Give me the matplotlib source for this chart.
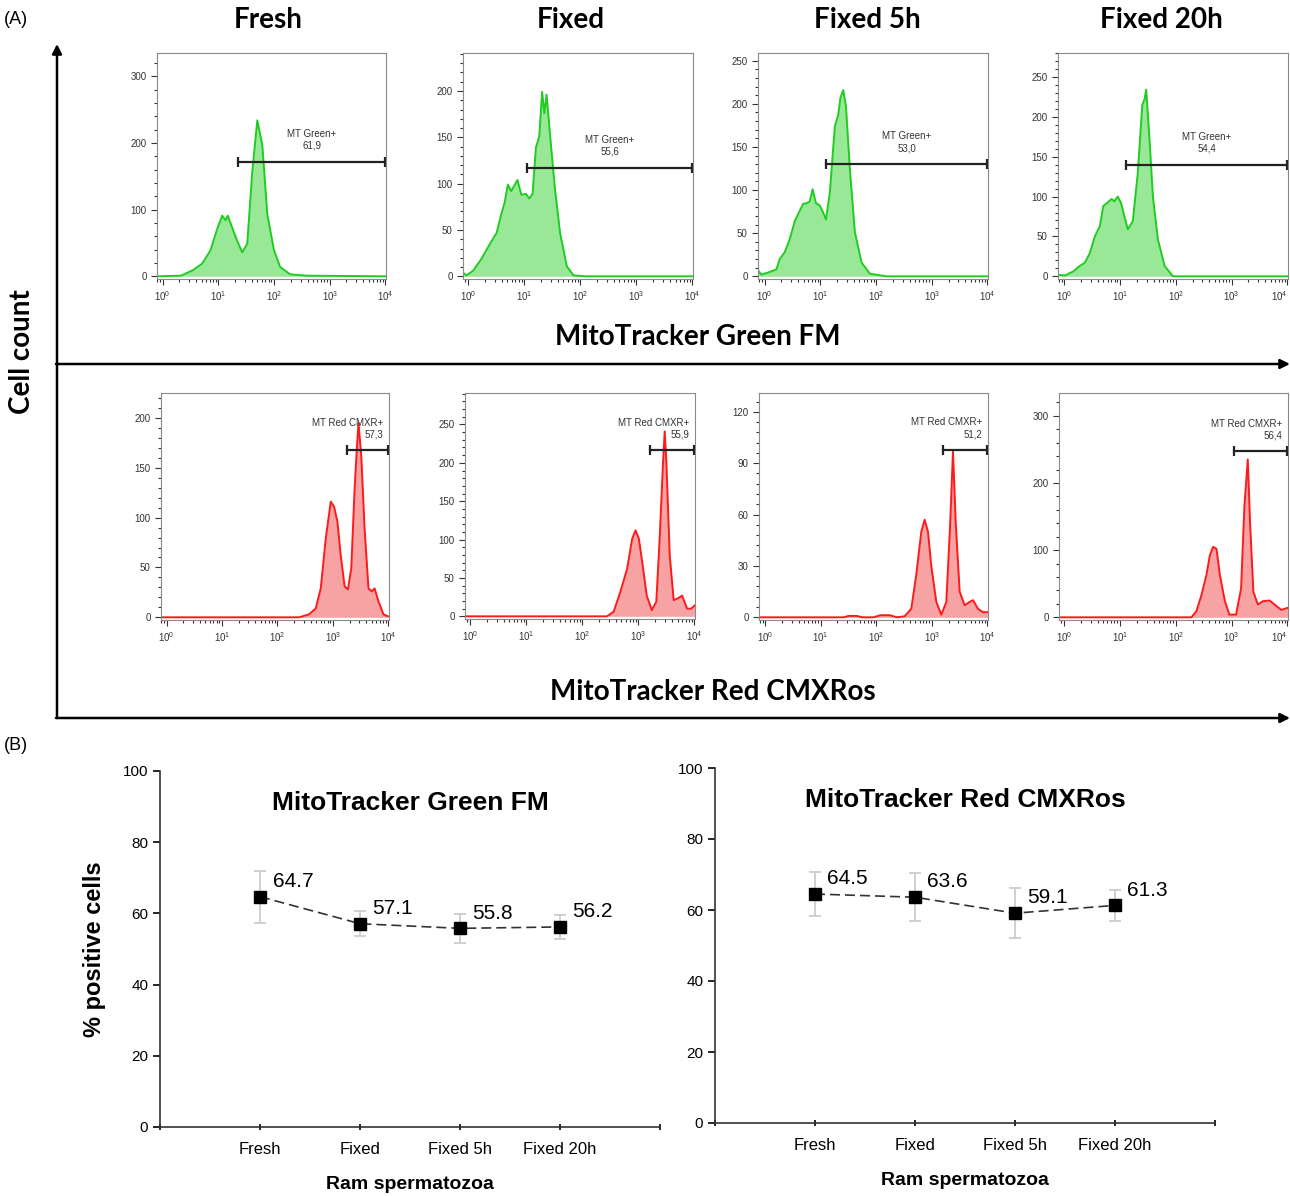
import numpy as np
import matplotlib
matplotlib.use("Agg")
import matplotlib.pyplot as plt
from matplotlib.patches import FancyArrowPatch
from matplotlib.ticker import FixedLocator, MultipleLocator, AutoMinorLocator, FuncFormatter, NullFormatter

plt.rcParams['font.family'] = ['Liberation Sans', 'DejaVu Sans']
plt.rcParams['mathtext.fontset'] = 'custom'
plt.rcParams['mathtext.rm'] = 'Liberation Sans'
plt.rcParams['mathtext.it'] = 'Liberation Sans'

W, H = 1290, 1196

# ---------------- data ----------------
conditions = ['Fresh', 'Fixed', 'Fixed 5h', 'Fixed 20h']

# MitoTracker Green FM histograms (log10 intensity, cell count)
g_fresh_x = [-0.1, 0.33, 0.54, 0.71, 0.86, 0.98, 1.07, 1.13, 1.17, 1.25, 1.34, 1.43, 1.52, 1.61, 1.70, 1.79, 1.88, 2.0, 2.11, 2.29, 2.59, 4.0]
g_fresh_y = [0, 1, 9, 19, 39, 71, 91, 84, 91, 73, 53, 36, 49, 157, 234, 197, 93, 39, 14, 3, 1, 0]
g_fixed_x = [-0.09, -0.03, 0.09, 0.24, 0.39, 0.51, 0.6, 0.65, 0.71, 0.77, 0.88, 0.95, 1.03, 1.09, 1.15, 1.21, 1.27, 1.32, 1.36, 1.4, 1.47, 1.55, 1.64, 1.76, 1.88, 2.1, 4.02]
g_fixed_y = [4, 1, 6, 19, 35, 47, 69, 79, 99, 92, 104, 88, 89, 84, 89, 139, 151, 199, 176, 196, 147, 94, 47, 11, 1, 0, 0]
g_fix5_x = [-0.12, -0.06, 0.09, 0.21, 0.27, 0.36, 0.45, 0.54, 0.63, 0.69, 0.76, 0.81, 0.86, 0.92, 0.99, 1.05, 1.10, 1.17, 1.26, 1.32, 1.36, 1.41, 1.46, 1.53, 1.62, 1.74, 1.89, 2.19, 4.0]
g_fix5_y = [7, 2, 5, 8, 20, 28, 43, 64, 76, 84, 85, 87, 101, 85, 82, 74, 66, 97, 174, 187, 207, 216, 197, 124, 51, 16, 3, 0, 0]
g_fix20_x = [-0.11, 0.01, 0.16, 0.28, 0.37, 0.46, 0.55, 0.64, 0.70, 0.77, 0.85, 0.9, 0.96, 1.02, 1.08, 1.14, 1.23, 1.32, 1.40, 1.44, 1.47, 1.53, 1.59, 1.68, 1.80, 1.95, 4.0]
g_fix20_y = [2, 1, 6, 13, 17, 29, 50, 63, 88, 92, 97, 94, 100, 92, 75, 59, 69, 130, 215, 222, 234, 171, 100, 46, 13, 0, 0]

# MitoTracker Red CMXRos histograms
r_fresh_x = [-0.1, 2.39, 2.57, 2.69, 2.78, 2.87, 2.96, 3.02, 3.08, 3.14, 3.21, 3.27, 3.33, 3.39, 3.43, 3.46, 3.51, 3.57, 3.64, 3.7, 3.75, 3.82, 3.91, 3.99]
r_fresh_y = [0, 0, 3, 9, 29, 79, 116, 111, 96, 62, 31, 28, 49, 129, 169, 195, 162, 89, 29, 26, 29, 16, 3, 1]
r_fixed_x = [-0.09, 2.44, 2.56, 2.68, 2.80, 2.89, 2.95, 3.01, 3.07, 3.15, 3.24, 3.32, 3.38, 3.44, 3.47, 3.5, 3.56, 3.63, 3.72, 3.78, 3.87, 3.94, 4.02]
r_fixed_y = [0, 0, 6, 32, 62, 101, 112, 101, 70, 27, 8, 19, 101, 200, 241, 200, 79, 21, 24, 27, 10, 10, 15]
r_fix5_x = [-0.11, 1.41, 1.5, 1.65, 1.75, 1.95, 2.07, 2.25, 2.37, 2.51, 2.63, 2.72, 2.81, 2.87, 2.93, 2.99, 3.08, 3.17, 3.26, 3.33, 3.38, 3.43, 3.5, 3.59, 3.68, 3.74, 3.83, 3.92, 4.0]
r_fix5_y = [0, 0, 0.8, 0.8, 0, 0, 1.2, 1.2, 0, 0.6, 5, 25, 50, 57, 50, 30, 9, 1.5, 9, 55, 97, 55, 15, 7, 9, 10, 5, 3, 3]
r_fix20_x = [-0.09, 2.28, 2.37, 2.46, 2.55, 2.61, 2.67, 2.73, 2.79, 2.88, 2.96, 3.08, 3.17, 3.23, 3.29, 3.33, 3.39, 3.47, 3.56, 3.68, 3.77, 3.89, 4.0]
r_fix20_y = [0, 0, 9, 33, 63, 92, 105, 102, 63, 24, 4, 4, 43, 166, 235, 142, 38, 19, 24, 25, 19, 11, 14]

green_x = [g_fresh_x, g_fixed_x, g_fix5_x, g_fix20_x]
green_y = [g_fresh_y, g_fixed_y, g_fix5_y, g_fix20_y]
red_x = [r_fresh_x, r_fixed_x, r_fix5_x, r_fix20_x]
red_y = [r_fresh_y, r_fixed_y, r_fix5_y, r_fix20_y]

# y axis top and tick step of each histogram
green_ymax = [335, 241, 259, 280]
green_ystep = [100, 50, 50, 50]
red_ymax = [225, 291, 131, 334]
red_ystep = [50, 50, 30, 100]

# gates: start (log10), height, percentage
green_gate_lo = [1.35, 1.05, 1.1, 1.1]
green_gate_y = [172, 117, 130, 140]
green_gate_pct = ['61,9', '55,6', '53,0', '54,4']
red_gate_lo = [3.25, 3.2, 3.2, 3.05]
red_gate_y = [168, 217, 98, 248]
red_gate_pct = ['57,3', '55,9', '51,2', '56,4']

# panel B: % positive cells
green_mean = [64.7, 57.1, 55.8, 56.2]
green_err = [7.3, 3.5, 4.1, 3.4]
red_mean = [64.5, 63.6, 59.1, 61.3]
red_err = [6.2, 6.8, 7.1, 4.4]


def px_box(left, top, right, bottom):
    return [left / W, 1 - bottom / H, (right - left) / W, (bottom - top) / H]


def fx(px):
    return px / W


def fy(py):
    return 1 - py / H


fig = plt.figure(figsize=(W / 100, H / 100), dpi=100)

# ---------------- panel A: histograms ----------------
green_boxes = [(157, 53, 386, 279), (463, 53, 693, 279), (758, 53, 988, 279), (1058, 53, 1288, 279)]
red_boxes = [(161, 393, 389, 620), (465, 393, 695, 619), (759, 393, 988, 620), (1059, 393, 1288, 620)]

def log_fmt(v, pos):
    return r'$10^{%d}$' % int(round(np.log10(v)))


def histo(box, xs, ys, ymax, ystep, gate_lo, gate_y, pct, line_c, fill_c, gate_name, red, last):
    ax = fig.add_axes(px_box(*box))
    xv = 10 ** np.array(xs)
    ax.fill_between(xv, ys, 0, color=fill_c, lw=0)
    ax.plot(xv, ys, color=line_c, lw=1.4)
    ax.set_xscale('log')
    ax.set_xlim(10 ** xs[0], 10 ** 4.01)
    ax.set_ylim(-ymax * 0.012, ymax)
    ax.xaxis.set_major_locator(FixedLocator([1, 10, 100, 1000, 10000]))
    ax.xaxis.set_major_formatter(FuncFormatter(log_fmt))
    ax.xaxis.set_minor_locator(FixedLocator([m * 10 ** d for d in range(-1, 4) for m in range(2, 10)]))
    ax.xaxis.set_minor_formatter(NullFormatter())
    ax.yaxis.set_major_locator(MultipleLocator(ystep))
    ax.yaxis.set_minor_locator(AutoMinorLocator(5))
    ax.tick_params(which='both', direction='out', labelsize=7, colors='#333333', width=0.8)
    ax.tick_params(which='major', length=4)
    ax.tick_params(which='minor', length=2)
    for s in ax.spines.values():
        s.set_color('#8a8a8a')
        s.set_linewidth(0.8)
    if last:
        fig.canvas.draw()
        ax.get_xticklabels()[-1].set_horizontalalignment('right')
    # gate bar
    gx = [10 ** gate_lo, 10 ** 4.0]
    ax.plot(gx, [gate_y, gate_y], color='#222222', lw=1.6, marker='|', ms=7, mew=1.6, clip_on=False)
    if red:
        ax.text(0.975, gate_y + ymax * 0.045, gate_name + '\n' + pct, transform=ax.get_yaxis_transform(),
                ha='right', va='bottom', fontsize=7, color='#333333', linespacing=1.25)
    else:
        mid = np.sqrt(gx[0] * gx[1])
        ax.annotate(gate_name + '\n' + pct, (mid, gate_y), xytext=(0, 8), textcoords='offset points',
                    ha='center', va='bottom', fontsize=7, color='#333333', linespacing=1.25)
    return ax


for i in range(4):
    histo(green_boxes[i], green_x[i], green_y[i], green_ymax[i], green_ystep[i],
          green_gate_lo[i], green_gate_y[i], green_gate_pct[i], '#1fcc1f', '#98e898', 'MT Green+', False, i == 3)
    histo(red_boxes[i], red_x[i], red_y[i], red_ymax[i], red_ystep[i],
          red_gate_lo[i], red_gate_y[i], red_gate_pct[i], '#ff1a1a', '#f7a3a3', 'MT Red CMXR+', True, i == 3)

# column titles
title_x = [268, 571, 867, 1161]
for name, x in zip(conditions, title_x):
    fig.text(fx(x), fy(20), name, ha='center', va='center', fontsize=20, fontweight='bold', family='Lato')

fig.text(fx(698), fy(337), 'MitoTracker Green FM', ha='center', va='center', fontsize=20, fontweight='bold', family='Lato')
fig.text(fx(713), fy(692), 'MitoTracker Red CMXRos', ha='center', va='center', fontsize=20, fontweight='bold', family='Lato')
fig.text(fx(22), fy(352), 'Cell count', ha='center', va='center', rotation=90, fontsize=20, fontweight='bold', family='Lato')
fig.text(fx(4), fy(20), '(A)', ha='left', va='center', fontsize=13)
fig.text(fx(4), fy(745), '(B)', ha='left', va='center', fontsize=13)

# big arrows
arrows = [((57, 718), (57, 44)), ((56, 364), (1290, 364)), ((56, 718), (1290, 718))]
for (x0, y0), (x1, y1) in arrows:
    fig.add_artist(FancyArrowPatch((fx(x0), fy(y0)), (fx(x1), fy(y1)), transform=fig.transFigure,
                                   arrowstyle='-|>', mutation_scale=14, lw=1.8, color='black',
                                   shrinkA=0, shrinkB=0))

# ---------------- panel B ----------------
def line_panel(box, means, errs, title):
    ax = fig.add_axes(px_box(*box))
    pos = np.arange(1, len(conditions) + 1)
    ax.errorbar(pos, means, yerr=errs, fmt='none', ecolor='#c8c8c8', elinewidth=1.2, capsize=4, capthick=1.2, zorder=1)
    ax.plot(pos, means, color='#333333', lw=1.2, dashes=(6, 3), zorder=2)
    ax.plot(pos, means, 's', color='black', ms=9, zorder=3)
    for p, m in zip(pos, means):
        ax.annotate('%.1f' % m, (p, m), xytext=(9, 11), textcoords='offset points',
                    ha='left', va='center', fontsize=15)
    ax.set_xlim(0, 5)
    ax.set_ylim(0, 100)
    ax.set_xticks(range(0, 6))
    ax.set_xticklabels([''] + conditions + [''], fontsize=12)
    ax.set_yticks(range(0, 101, 20))
    ax.tick_params(axis='y', labelsize=11, length=5, width=1.2, direction='out')
    ax.tick_params(axis='x', length=5, width=1.2, direction='inout', pad=8)
    for s in ['top', 'right']:
        ax.spines[s].set_visible(False)
    for s in ['left', 'bottom']:
        ax.spines[s].set_linewidth(1.2)
        ax.spines[s].set_color('#333333')
    ax.text(2.5, 91, title, ha='center', va='center', fontsize=19, fontweight='bold')
    ax.set_xlabel('Ram spermatozoa', fontsize=14, fontweight='bold', labelpad=14)
    return ax


axl = line_panel((160, 771, 660, 1127), green_mean, green_err, 'MitoTracker Green FM')
axl.set_ylabel('% positive cells', fontsize=17, fontweight='bold', labelpad=12)
axr = line_panel((715, 768, 1215, 1123), red_mean, red_err, 'MitoTracker Red CMXRos')

fig.savefig('out.png', dpi=100)
